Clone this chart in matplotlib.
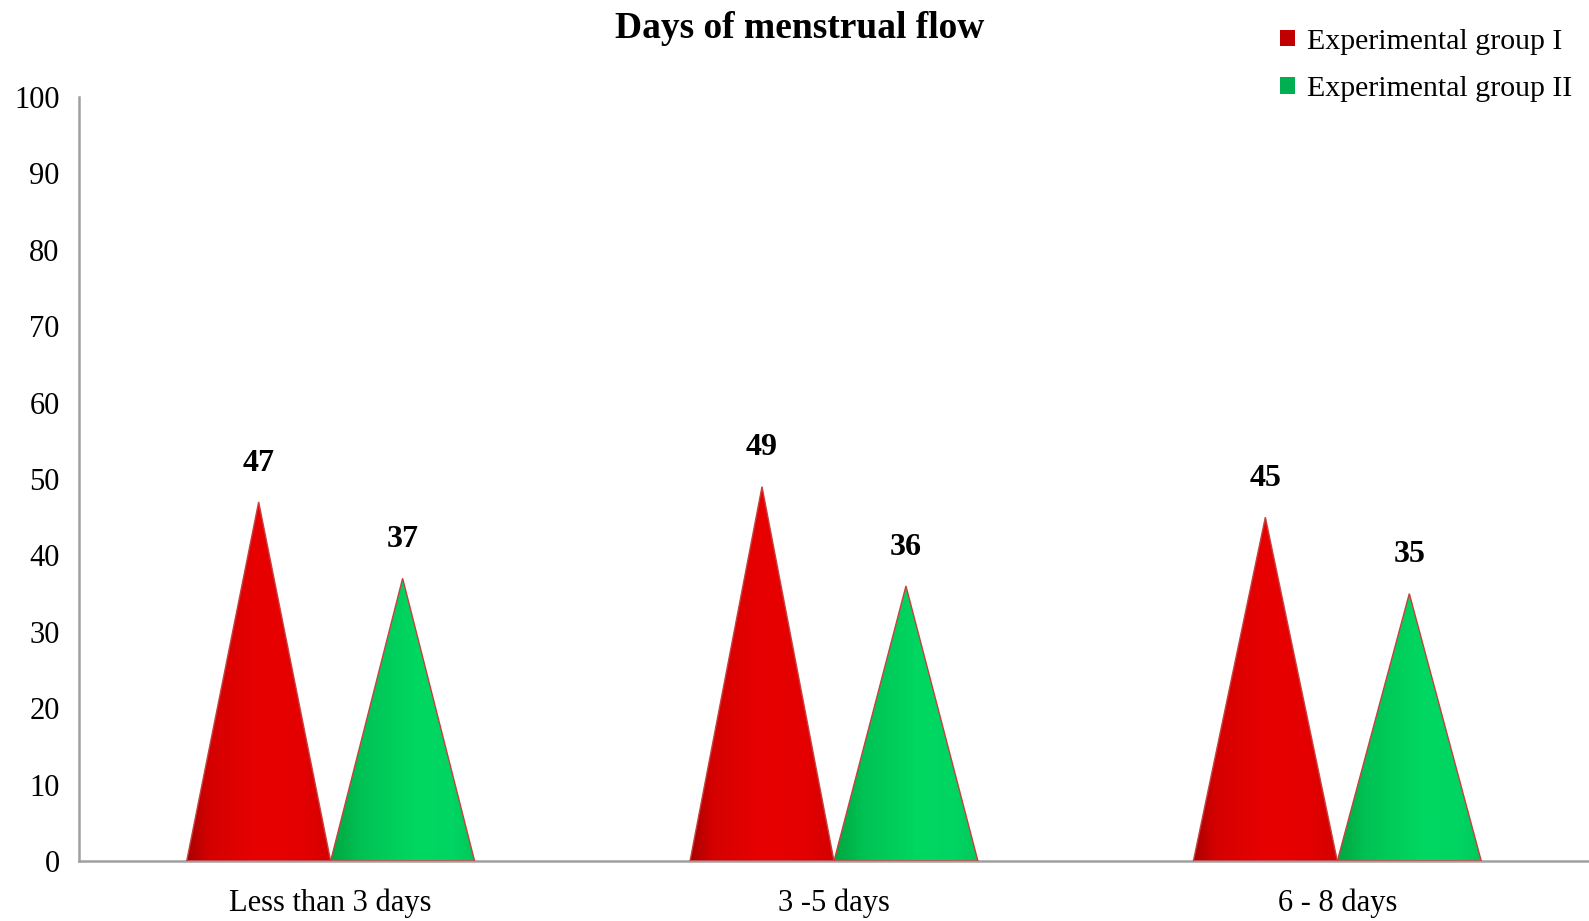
import numpy as np
import matplotlib.pyplot as plt
from matplotlib.patches import Polygon, Patch
from matplotlib.colors import LinearSegmentedColormap

categories = ["Less than 3 days", "3 -5 days", "6 - 8 days"]
group_1 = [47, 49, 45]
group_2 = [37, 36, 35]
series_names = ["Experimental group I", "Experimental group II"]
yticks = [0, 10, 20, 30, 40, 50, 60, 70, 80, 90, 100]

plt.rcParams['font.family'] = ['Liberation Serif', 'DejaVu Serif']

# horizontal shading for the cones, dark left edge to bright middle
red_shade = LinearSegmentedColormap.from_list(
    "red_shade", [(0, "#a80000"), (0.15, "#d40000"), (0.5, "#e80000"), (0.8, "#e40000"), (1, "#d40000")])
green_shade = LinearSegmentedColormap.from_list(
    "green_shade", [(0, "#00a640"), (0.2, "#00c254"), (0.6, "#00d862"), (0.85, "#00d462"), (1, "#00c85a")])

fig = plt.figure(figsize=(15.89, 9.21), dpi=100)
ax = fig.add_axes([0.0497, 0.0651, 0.9503, 0.8296])

width = 0.286
grad = np.linspace(0, 1, 256).reshape(1, -1)


def cone(ax, xc, h, cmap):
    pts = [(xc - width / 2, 0), (xc, h), (xc + width / 2, 0)]
    poly = Polygon(pts, closed=True, facecolor="none", edgecolor="#c84040", linewidth=1.0, zorder=3)
    ax.add_patch(poly)
    im = ax.imshow(grad, cmap=cmap, aspect="auto", extent=(xc - width / 2, xc + width / 2, 0, h),
                   interpolation="bicubic", zorder=2)
    im.set_clip_path(poly)
    ax.annotate(str(h), (xc, h), xytext=(0, 28), textcoords="offset points", ha="center", va="center",
                fontsize=23, fontweight="bold")


x = np.arange(len(categories))
for i in range(len(categories)):
    cone(ax, x[i] - width / 2, group_1[i], red_shade)
    cone(ax, x[i] + width / 2, group_2[i], green_shade)

ax.set_xlim(-0.5, 2.5)
ax.set_ylim(0, 100)
ax.set_yticks(yticks)
ax.set_xticks(x)
ax.set_xticklabels(categories)
ax.tick_params(axis="both", length=0, labelsize=22)
ax.tick_params(axis="y", pad=14)
ax.tick_params(axis="x", pad=20)
for s in ["top", "right"]:
    ax.spines[s].set_visible(False)
for s in ["left", "bottom"]:
    ax.spines[s].set_color("#a0a0a0")
    ax.spines[s].set_linewidth(1.8)

fig.text(0.503, 0.969, "Days of menstrual flow", ha="center", va="center", fontsize=27, fontweight="bold")

handles = [Patch(facecolor="#c00000", edgecolor="none"), Patch(facecolor="#00b050", edgecolor="none")]
fig.legend(handles, series_names, loc="upper right", bbox_to_anchor=(1.006, 0.998), frameon=False,
           fontsize=21.5, handlelength=0.48, handleheight=0.48, handletextpad=0.4, labelspacing=0.72)

fig.savefig("out.png", dpi=100)
